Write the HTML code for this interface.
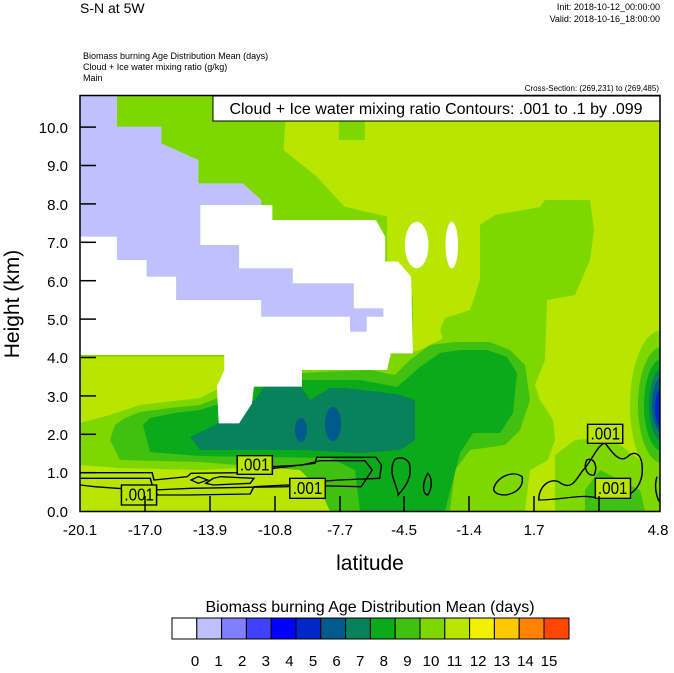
<!DOCTYPE html>
<html><head><meta charset="utf-8"><style>
body{margin:0;background:#fff;width:674px;height:668px;overflow:hidden;font-family:"Liberation Sans",sans-serif}
</style></head><body>
<svg width="674" height="668" xmlns="http://www.w3.org/2000/svg" font-family="Liberation Sans, sans-serif">
<rect width="674" height="668" fill="#fff"/>
<text x="80" y="13" font-size="14">S-N at 5W</text>
<text x="660" y="10" font-size="9" text-anchor="end">Init: 2018-10-12_00:00:00</text>
<text x="660" y="22" font-size="9" text-anchor="end">Valid: 2018-10-16_18:00:00</text>
<text x="83" y="59" font-size="9">Biomass burning Age Distribution Mean   (days)</text>
<text x="83" y="70" font-size="9">Cloud + Ice water mixing ratio   (g/kg)</text>
<text x="83" y="81" font-size="9">Main</text>
<text x="659" y="91" font-size="8" text-anchor="end">Cross-Section: (269,231) to (269,485)</text>
<svg x="80" y="95" width="580" height="417" viewBox="0 0 580 417" overflow="hidden">
<g transform="translate(0,-5) scale(0.36995,0.33333)">
<rect x="0" y="0" width="1570" height="1300" fill="#b8e600"/>
<polygon fill="#7fd700" points="0,15 560,15 550,180 640,260 715,350 830,380 830,600 900,620 900,800 0,800"/>
<polygon fill="#7fd700" points="700,90 770,90 770,150 700,150"/>
</g>
<g transform="translate(-80,-95)">
<!-- mid-green column -->
<polygon fill="#7fd700" points="480,225 495,215 540,207 545,200 590,200 594,230 590,260 575,295 547,300 545,360 535,385 540,400 553,420 555,440 548,460 530,470 525,511 440,511 440,470 420,460 430,350 445,345 440,330 445,318 470,310 480,280"/>
<polygon fill="#7fd700" points="80,423 110,415 140,405 200,398 240,378 260,365 300,362 380,360 420,350 450,335 470,330 490,340 460,380 420,460 380,470 330,470 300,465 200,470 120,468 80,465"/>
<polygon fill="#7fd700" points="555,455 575,440 600,438 620,445 640,460 660,470 660,511 555,511"/>
<!-- medium green -->
<polygon fill="#40c010" points="110,440 115,425 125,418 140,412 170,408 200,405 225,395 250,380 270,375 320,372 370,370 395,375 410,360 430,345 455,342 490,342 510,350 525,365 530,400 520,430 505,445 470,450 455,470 450,511 330,511 320,490 300,470 200,462 120,460"/>
<polygon fill="#40c010" points="585,490 600,470 620,480 640,490 645,511 585,511"/>
<!-- dark green -->
<polygon fill="#0aaa1a" points="143,425 150,418 175,413 200,410 225,402 260,385 300,380 360,380 397,387 420,367 440,353 460,350 487,350 507,357 517,373 513,413 500,433 473,433 460,453 445,511 360,511 355,470 330,458 200,456 150,452"/>
<!-- teal -->
<polygon fill="#08825a" points="190,437 215,425 240,402 255,400 265,385 300,385 310,400 330,388 345,388 380,392 400,395 415,400 415,440 400,450 360,453 300,450 200,450"/>
<ellipse cx="301" cy="430" rx="6" ry="12" fill="#005a8c"/>
<ellipse cx="333" cy="424" rx="8" ry="17" fill="#005a8c"/>
<!-- right blob -->
<ellipse cx="662" cy="405" rx="32" ry="75" fill="#7fd700"/>
<ellipse cx="662" cy="405" rx="24" ry="58" fill="#40c010"/>
<ellipse cx="662" cy="405" rx="18" ry="46" fill="#0aaa1a"/>
<ellipse cx="662" cy="405" rx="13" ry="36" fill="#08825a"/>
<ellipse cx="662" cy="405" rx="10" ry="28" fill="#005a8c"/>
<ellipse cx="662" cy="408" rx="7" ry="20" fill="#0028c8"/>
</g>
<g transform="translate(0,-5) scale(0.36995,0.33333)">
<polygon fill="#c0c0ff" points="0,15 100,15 100,110 220,110 220,160 320,210 320,280 440,280 490,330 490,345 325,345 325,465 430,465 430,535 575,535 575,580 740,580 740,655 820,655 820,680 775,680 775,725 730,725 730,680 490,680 490,630 260,630 260,560 180,560 180,510 0,510"/>
<polygon fill="#fff" points="325,345 520,345 520,390 800,390 825,440 825,515 860,515 895,560 900,790 840,790 830,840 600,840 600,890 470,890 465,940 430,1000 375,1000 370,890 390,840 390,795 0,795 0,440 100,440 100,510 180,510 180,560 260,560 260,630 490,630 490,680 730,680 730,725 775,725 775,680 820,680 820,655 740,655 740,580 575,580 575,535 430,535 430,465 325,465"/>
<ellipse cx="910" cy="465" rx="32" ry="70" fill="#fff"/>
<ellipse cx="1005" cy="465" rx="17" ry="70" fill="#fff"/>
<g fill="none" stroke="#000" stroke-width="4">
<path d="M0,1148 L195,1148 L200,1170 L290,1160 L300,1150 L430,1148 L635,1120 L640,1102 L800,1102 L815,1125 L810,1165 L700,1170 L640,1175 L560,1190 L300,1195 L200,1200 L100,1195 L40,1190 L0,1185"/>
<path d="M0,1165 L190,1165 L195,1185 L210,1215 L290,1215 L460,1212 L470,1190 L560,1185 L760,1190 L790,1140 L770,1112 L650,1112 L600,1125 L520,1130"/>
<path d="M360,1165 L340,1180 L360,1185 L460,1180 L470,1165 L380,1160 Z"/>
<path d="M300,1170 L320,1160 L345,1170 L320,1180 Z"/>
<path d="M850,1110 C830,1150 860,1190 860,1215 C880,1190 900,1160 890,1120 C880,1100 860,1100 850,1110 Z"/>
<path d="M940,1150 C920,1190 930,1215 940,1215 C955,1190 950,1160 940,1150 Z"/>
<path d="M1120,1190 C1130,1160 1170,1140 1195,1160 C1200,1190 1180,1210 1150,1215 C1120,1215 1115,1200 1120,1190 Z"/>
<path d="M1240,1230 C1240,1180 1280,1160 1300,1180 C1330,1200 1340,1170 1360,1140 C1380,1120 1400,1060 1420,1060 C1440,1090 1460,1120 1480,1100 C1500,1080 1520,1090 1520,1140 C1520,1180 1500,1210 1470,1220 L1400,1225 C1360,1210 1300,1230 1240,1230 Z"/>
<path d="M1370,1110 C1390,1100 1400,1130 1390,1155 C1370,1160 1360,1130 1370,1110 Z"/>
<path d="M1560,1160 C1550,1190 1560,1230 1570,1240"/>
</g>
<g fill="#b8e600" stroke="#000" stroke-width="4">
<rect x="425" y="1097" width="95" height="56"/><rect x="567" y="1165" width="96" height="60"/>
<rect x="112" y="1185" width="95" height="60"/><rect x="1372" y="1003" width="95" height="57"/>
<rect x="1393" y="1165" width="95" height="60"/>
</g>
<g font-size="52" fill="#000" text-anchor="middle">
<text x="472" y="1142" textLength="80" lengthAdjust="spacingAndGlyphs">.001</text>
<text x="615" y="1212" textLength="80" lengthAdjust="spacingAndGlyphs">.001</text>
<text x="160" y="1232" textLength="80" lengthAdjust="spacingAndGlyphs">.001</text>
<text x="1420" y="1048" textLength="80" lengthAdjust="spacingAndGlyphs">.001</text>
<text x="1440" y="1212" textLength="80" lengthAdjust="spacingAndGlyphs">.001</text>
</g>
</g>
</svg>
<rect x="213" y="96" width="447" height="25" fill="#fff" stroke="#000" stroke-width="1"/>
<text x="436" y="114" font-size="16" text-anchor="middle">Cloud + Ice water mixing ratio Contours: .001 to .1 by .099</text>
<rect x="80" y="95.5" width="580" height="416" fill="none" stroke="#000" stroke-width="1.5"/>
<g stroke="#000" stroke-width="1.5">
<line x1="80" y1="472.7" x2="96" y2="472.7"/><line x1="80" y1="434.3" x2="96" y2="434.3"/>
<line x1="80" y1="395.9" x2="96" y2="395.9"/><line x1="80" y1="357.5" x2="96" y2="357.5"/>
<line x1="80" y1="319.1" x2="96" y2="319.1"/><line x1="80" y1="280.7" x2="96" y2="280.7"/>
<line x1="80" y1="242.3" x2="96" y2="242.3"/><line x1="80" y1="203.9" x2="96" y2="203.9"/>
<line x1="80" y1="165.5" x2="96" y2="165.5"/><line x1="80" y1="127.1" x2="96" y2="127.1"/>
<line x1="145" y1="496" x2="145" y2="511"/><line x1="210" y1="496" x2="210" y2="511"/>
<line x1="275" y1="496" x2="275" y2="511"/><line x1="340" y1="496" x2="340" y2="511"/>
<line x1="404" y1="496" x2="404" y2="511"/><line x1="469" y1="496" x2="469" y2="511"/>
<line x1="534" y1="496" x2="534" y2="511"/><line x1="599" y1="496" x2="599" y2="511"/>
</g>
<g font-size="15" text-anchor="end">
<text x="68" y="517">0.0</text><text x="68" y="478">1.0</text><text x="68" y="440">2.0</text>
<text x="68" y="402">3.0</text><text x="68" y="363">4.0</text><text x="68" y="325">5.0</text>
<text x="68" y="287">6.0</text><text x="68" y="248">7.0</text><text x="68" y="210">8.0</text>
<text x="68" y="171">9.0</text><text x="68" y="133">10.0</text>
</g>
<g font-size="15" text-anchor="middle">
<text x="80" y="535">-20.1</text><text x="145" y="535">-17.0</text><text x="210" y="535">-13.9</text>
<text x="275" y="535">-10.8</text><text x="340" y="535">-7.7</text><text x="404" y="535">-4.5</text>
<text x="469" y="535">-1.4</text><text x="534" y="535">1.7</text><text x="658" y="535">4.8</text>
</g>
<text x="370" y="570" font-size="21" text-anchor="middle">latitude</text>
<text transform="translate(19,304) rotate(-90)" font-size="21" text-anchor="middle">Height (km)</text>
<text x="370" y="612" font-size="16" text-anchor="middle">Biomass burning Age Distribution Mean  (days)</text>
<g stroke="#000" stroke-width="1">
<rect x="172" y="618" width="24.8" height="21" fill="#fff"/>
<rect x="196.8" y="618" width="24.8" height="21" fill="#c0c0ff"/>
<rect x="221.6" y="618" width="24.8" height="21" fill="#8080ff"/>
<rect x="246.4" y="618" width="24.8" height="21" fill="#4040ff"/>
<rect x="271.2" y="618" width="24.8" height="21" fill="#0000ff"/>
<rect x="296" y="618" width="24.8" height="21" fill="#0028c8"/>
<rect x="320.8" y="618" width="24.8" height="21" fill="#005a8c"/>
<rect x="345.6" y="618" width="24.8" height="21" fill="#08825a"/>
<rect x="370.4" y="618" width="24.8" height="21" fill="#0aaa1a"/>
<rect x="395.2" y="618" width="24.8" height="21" fill="#40c010"/>
<rect x="420" y="618" width="24.8" height="21" fill="#7fd700"/>
<rect x="444.8" y="618" width="24.8" height="21" fill="#b8e600"/>
<rect x="469.6" y="618" width="24.8" height="21" fill="#f0f000"/>
<rect x="494.4" y="618" width="24.8" height="21" fill="#ffc800"/>
<rect x="519.2" y="618" width="24.8" height="21" fill="#ff8200"/>
<rect x="544" y="618" width="25" height="21" fill="#ff4600"/>
</g>
<g font-size="15" text-anchor="middle">
<text x="195" y="666">0</text><text x="218.6" y="666">1</text><text x="242.2" y="666">2</text>
<text x="265.8" y="666">3</text><text x="289.4" y="666">4</text><text x="313" y="666">5</text>
<text x="336.6" y="666">6</text><text x="360.2" y="666">7</text><text x="383.8" y="666">8</text>
<text x="407.4" y="666">9</text><text x="431" y="666">10</text><text x="454.6" y="666">11</text>
<text x="478.2" y="666">12</text><text x="501.8" y="666">13</text><text x="525.4" y="666">14</text>
<text x="549" y="666">15</text>
</g>
</svg>
</body></html>
